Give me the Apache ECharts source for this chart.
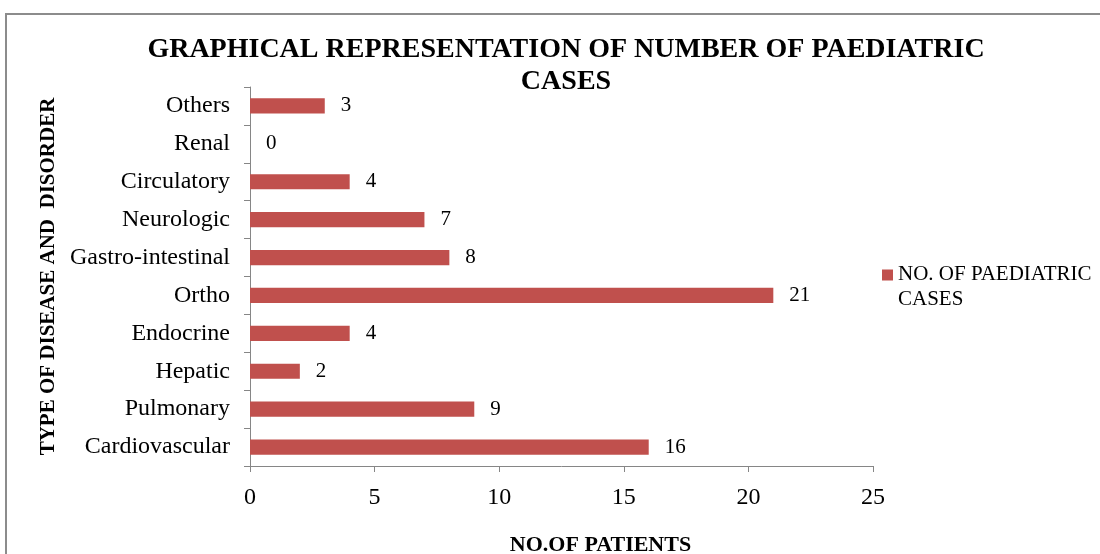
<!DOCTYPE html>
<html>
<head>
<meta charset="utf-8">
<script src="https://cdn.jsdelivr.net/npm/echarts@6/dist/echarts.min.js"></script>
<style>
  body { margin: 0; background: #fff; }
  #frame {
    position: absolute; left: 5px; top: 13px; width: 1110px; height: 560px;
    border: 2px solid #8c8c8c; box-sizing: border-box;
  }
  #chart { position: absolute; left: 0; top: 0; width: 1100px; height: 554px; }
</style>
</head>
<body>
<div id="frame"></div>
<div id="chart"></div>
<script>
// 数据
var categories = ['Cardiovascular', 'Pulmonary', 'Hepatic', 'Endocrine', 'Ortho',
  'Gastro-intestinal', 'Neurologic', 'Circulatory', 'Renal', 'Others'];
var cases = [16, 9, 2, 4, 21, 8, 7, 4, 0, 3];
var seriesName = 'NO. OF PAEDIATRIC\nCASES';

var font = 'Liberation Serif';
var chart = echarts.init(document.getElementById('chart'));
chart.setOption({
  animation: false,
  title: {
    text: 'GRAPHICAL REPRESENTATION OF NUMBER OF PAEDIATRIC\nCASES',
    left: 561,
    top: 29,
    textAlign: 'center',
    textStyle: { fontFamily: font, fontSize: 28, fontWeight: 'bold', color: '#000', lineHeight: 32 }
  },
  legend: {
    data: [seriesName],
    left: 877,
    top: 257,
    itemWidth: 11,
    itemHeight: 35,
    itemGap: 6,
    // 方块对齐第一行文字
    icon: 'path://M0,0h11v11h-11z M11,35l0,0.001',
    textStyle: { fontFamily: font, fontSize: 21, color: '#000', lineHeight: 25 }
  },
  grid: { left: 250, right: 227, top: 87, bottom: 88, outerBoundsMode: 'none', containLabel: false },
  xAxis: {
    type: 'value',
    min: 0,
    max: 25,
    interval: 5,
    name: 'NO.OF PATIENTS',
    nameLocation: 'middle',
    nameGap: 68,
    nameTextStyle: { fontFamily: font, fontSize: 22, fontWeight: 'bold', color: '#000', padding: [0, 0, 0, 78] },
    axisLine: { show: true, lineStyle: { color: '#868686' } },
    axisTick: { show: true, length: 6, lineStyle: { color: '#868686' } },
    axisLabel: { fontFamily: font, fontSize: 24, color: '#000', margin: 20 },
    splitLine: { show: false }
  },
  yAxis: {
    type: 'category',
    data: categories,
    name: 'TYPE OF DISEASE AND  DISORDER',
    nameLocation: 'middle',
    nameGap: 190,
    nameTextStyle: { fontFamily: font, fontSize: 21, fontWeight: 'bold', color: '#000' },
    axisLine: { lineStyle: { color: '#868686' } },
    axisTick: { show: true, length: 6, lineStyle: { color: '#868686' } },
    axisLabel: { fontFamily: font, fontSize: 24, color: '#000', margin: 20 }
  },
  series: [{
    name: seriesName,
    type: 'bar',
    data: cases,
    barWidth: '40%',
    itemStyle: { color: '#C0504D' },
    label: {
      show: true,
      position: 'right',
      distance: 16,
      fontFamily: font,
      fontSize: 21,
      color: '#000'
    }
  }]
});
</script>
</body>
</html>
